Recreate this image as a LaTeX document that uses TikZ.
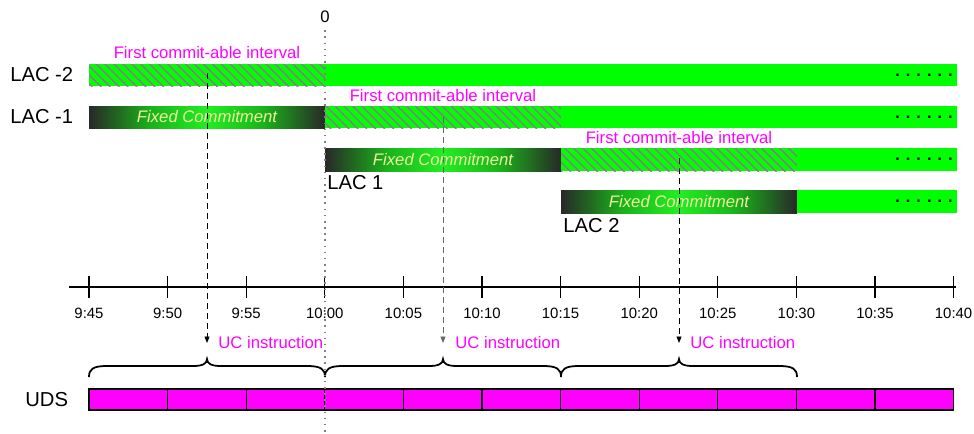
\documentclass[tikz,border=0pt]{standalone}
\usepackage{fontspec}
\setmainfont{Liberation Sans}
\usetikzlibrary{arrows.meta,patterns.meta}
\definecolor{lacgreen}{HTML}{00FF00}
\definecolor{lacpink}{HTML}{FF00FF}
\definecolor{hatchpink}{HTML}{A860A8}
\definecolor{fcdark}{HTML}{282828}
\definecolor{fcgreen}{HTML}{22EE22}
\definecolor{fctext}{HTML}{EEF0A0}
\pgfdeclarehorizontalshading{fcshade}{100bp}{color(0bp)=(fcdark); color(25bp)=(fcdark); color(38bp)=(fcgreen!75!black); color(50bp)=(fcgreen); color(62bp)=(fcgreen!75!black); color(75bp)=(fcdark); color(100bp)=(fcdark)}
\tikzset{
  lab/.style={font=\fontsize{11.5}{13}\selectfont, inner sep=0pt},
  pinklab/.style={font=\fontsize{9.5}{11}\selectfont, text=lacpink, inner sep=0pt},
  ticklab/.style={font=\fontsize{8.5}{10}\selectfont, inner sep=0pt},
  fclab/.style={font=\fontsize{9.5}{11}\selectfont\itshape, text=fctext, inner sep=0pt},
  dotlab/.style={font=\fontsize{9.3}{10}\selectfont\bfseries, inner sep=0pt},
  bar/.style={fill=lacgreen},
  hatch/.style={fill=lacgreen, postaction={pattern={Lines[angle=-45,distance=3.6pt,line width=0.7pt]}, pattern color=hatchpink}},
  fixed/.style={shade, shading=fcshade},
  zeroline/.style={draw=black!50, line width=0.6pt, dash pattern=on 0.9pt off 2.6pt},
  ucflow/.style={-{Triangle[length=1.3mm,width=1mm]}, line width=0.5pt, dash pattern=on 3.4pt off 2.3pt},
  timeline/.style={line width=0.6pt},
  brace/.style={line width=1pt},
  cell/.style={draw, fill=lacpink, line width=0.7pt},
}
\newcommand{\ucbrace}[3]{%
  \draw[brace] (#1,377) .. controls (#1,369) and ({#1+4},366) .. ({#1+18},366) -- ({#2-14},366)
    .. controls ({#2-5},366) and (#2,364) .. (#2,359) .. controls (#2,364) and ({#2+5},366) .. ({#2+14},366)
    -- ({#3-18},366) .. controls ({#3-4},366) and (#3,369) .. (#3,377);}

\begin{document}
\begin{tikzpicture}[x=0.02cm, y=-0.02cm]
    \useasboundingbox (0,0) rectangle (974,433);
    \path[hatch] (89,64) rectangle (325,86);
    \path[bar] (325,64) rectangle (957,86);
    \path[fixed] (89,106) rectangle (325,128);
    \path[hatch] (325,106) rectangle (561,128);
    \path[bar] (561,106) rectangle (957,128);
    \path[fixed] (325,148) rectangle (561,171);
    \path[hatch] (561,148) rectangle (797,171);
    \path[bar] (797,148) rectangle (957,171);
    \path[fixed] (561,190) rectangle (797,213);
    \path[bar] (797,190) rectangle (957,213);
    \node[lab, anchor=west] (lacm2) at (10,75) {LAC -2};
    \node[lab, anchor=west] (lacm1) at (10,117) {LAC -1};
    \node[lab, anchor=west] (lac1) at (327,183) {LAC 1};
    \node[lab, anchor=west] (lac2) at (563,226) {LAC 2};
    \node[lab, anchor=west] (uds) at (25,400) {UDS};
    \node[pinklab] (int1) at (207,53) {First commit-able interval};
    \node[pinklab] (int2) at (443,96) {First commit-able interval};
    \node[pinklab] (int3) at (679,138) {First commit-able interval};
    \node[fclab] (fc1) at (207,117) {Fixed Commitment};
    \node[fclab] (fc2) at (443,159.5) {Fixed Commitment};
    \node[fclab] (fc3) at (679,201.5) {Fixed Commitment};
    \node[dotlab] (dots1) at (924,75) {. . . . . .};
    \node[dotlab] (dots2) at (924,117) {. . . . . .};
    \node[dotlab] (dots3) at (924,159) {. . . . . .};
    \node[dotlab] (dots4) at (924,201) {. . . . . .};
    \draw[timeline] (69,287) -- (956,287);
    \foreach \i/\lbl in {0/9:45,1/9:50,2/9:55,3/10:00,4/10:05,5/10:10,6/10:15,7/10:20,8/10:25,9/10:30,10/10:35,11/10:40} {
      \draw[timeline] ({89+78.6*\i},276) -- ({89+78.6*\i},298);
      \node[ticklab] (t\i) at ({89+78.6*\i},313) {\lbl};
    }
    \foreach \i in {0,...,10}
      \draw[cell] ({89+78.6*\i},389) rectangle ({89+78.6*(\i+1)},410);
    \ucbrace{89}{207}{325}
    \ucbrace{325}{443}{561}
    \ucbrace{561}{679}{797}
    \node[lab, font=\fontsize{9.5}{11}\selectfont] (zero) at (325,17) {0};
    \coordinate (zend) at (325,433);
    \draw[zeroline, shorten <=4pt] (zero) -- (zend);
    \coordinate (s1) at (207,73);
    \coordinate (e1) at (207,343);
    \coordinate (s2) at (443,117);
    \coordinate (e2) at (443,343);
    \coordinate (s3) at (679,158);
    \coordinate (e3) at (679,343);
    \draw[ucflow] (s1) -- (e1);
    \draw[ucflow, black!60] (s2) -- (e2);
    \draw[ucflow] (s3) -- (e3);
    \node[pinklab, anchor=west] (uc1) at (218,343) {UC instruction};
    \node[pinklab, anchor=west] (uc2) at (455,343) {UC instruction};
    \node[pinklab, anchor=west] (uc3) at (690,343) {UC instruction};
  \end{tikzpicture}
\end{document}
